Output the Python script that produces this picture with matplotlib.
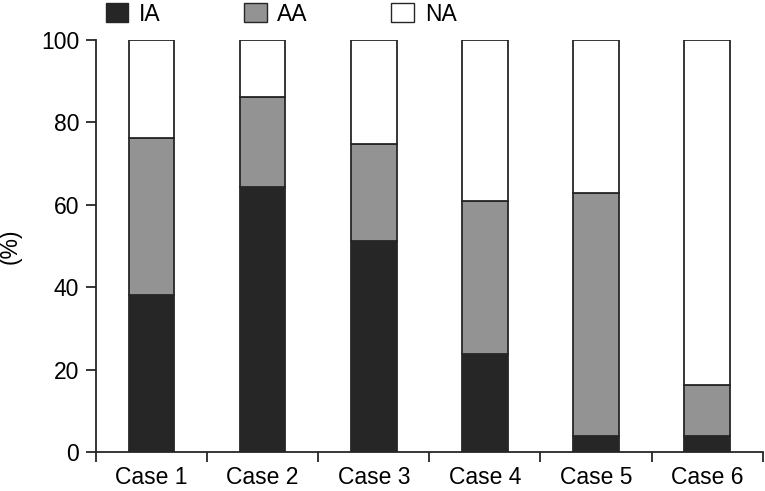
import numpy as np
import matplotlib.pyplot as plt
from matplotlib.patches import Patch

plt.rcParams['font.family'] = ['Liberation Sans', 'DejaVu Sans']

cases = ['Case 1', 'Case 2', 'Case 3', 'Case 4', 'Case 5', 'Case 6']
ia = [38, 64.3, 51.2, 23.8, 3.9, 3.9]
aa = [38.2, 21.9, 23.6, 37.1, 59.0, 12.4]
na = [100 - a - b for a, b in zip(ia, aa)]

c_ia = '#262626'
c_aa = '#939393'
c_na = 'white'
edge = '#262626'
fs = 16.5

fig = plt.figure(figsize=(7.65, 4.91), dpi=100)
ax = fig.add_axes([0.1255, 0.0794, 0.8715, 0.8391])

x = np.arange(len(cases))
w = 0.41
ax.bar(x, ia, w, color=c_ia, edgecolor=edge, linewidth=1.3)
ax.bar(x, aa, w, bottom=ia, color=c_aa, edgecolor=edge, linewidth=1.3)
ax.bar(x, na, w, bottom=np.array(ia) + np.array(aa), color=c_na, edgecolor=edge, linewidth=1.3)

ax.set_xlim(-0.5, len(cases) - 0.5)
ax.set_ylim(0, 100)
ax.set_yticks([0, 20, 40, 60, 80, 100])
ax.set_xticks(x)
ax.set_xticklabels(cases)
ax.set_xticks(np.arange(-0.5, len(cases)), minor=True)
ax.tick_params(axis='x', which='major', length=0, labelsize=fs, pad=10)
ax.tick_params(axis='x', which='minor', length=7, width=1.3, color=edge)
ax.tick_params(axis='y', length=7, width=1.3, color=edge, labelsize=fs, pad=5)
for s in ['top', 'right']:
    ax.spines[s].set_visible(False)
for s in ['left', 'bottom']:
    ax.spines[s].set_linewidth(1.3)
    ax.spines[s].set_color(edge)
ax.set_ylabel('(%)', fontsize=fs, labelpad=14)

handles = [Patch(facecolor=c_ia, edgecolor=edge, label='IA'),
           Patch(facecolor=c_aa, edgecolor=edge, label='AA'),
           Patch(facecolor=c_na, edgecolor=edge, label='NA')]
fig.legend(handles=handles, loc='upper left', bbox_to_anchor=(0.114, 1.032), ncol=3,
           frameon=False, fontsize=fs, handlelength=1.0, handleheight=0.9,
           handletextpad=0.45, columnspacing=3.65, borderpad=0.3)

fig.savefig('out.png', dpi=100)
